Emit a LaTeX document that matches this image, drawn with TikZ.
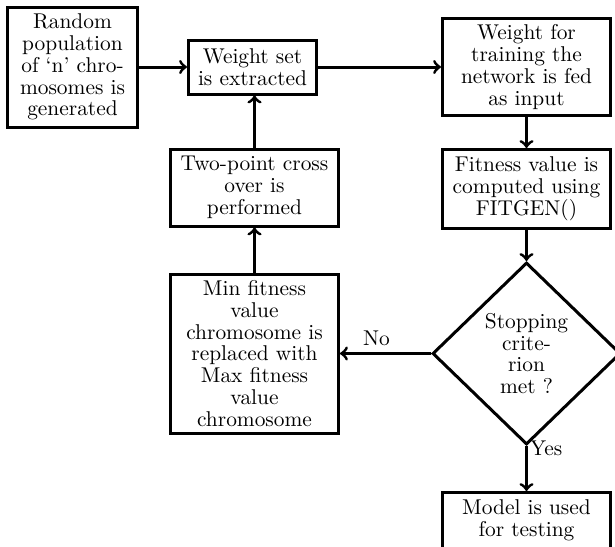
\documentclass[tikz,border=0pt]{standalone}
\usetikzlibrary{shapes.geometric, positioning}
\begin{document}
\begin{tikzpicture}[every node/.style={align=center, font=\fontsize{10.7pt}{10.9pt}\selectfont},
          block/.style={draw, rectangle, line width=1.5pt, inner sep=3pt, minimum width=84pt},
          decision/.style={draw, diamond, line width=1.5pt, inner sep=0pt,
            minimum width=94pt, minimum height=91pt},
          conn/.style={->, line width=1.5pt}]
            \useasboundingbox (0,0) rectangle (307.5pt,-273pt);
            \clip (0,0) rectangle (307.5pt,-273pt);
            % Top row
            \node[block, minimum width=65pt, minimum height=60pt] (rand) at (36.25pt,-33.5pt)
                {Random\\population\\of ‘n’ chro-\\mosomes is\\generated};
            \node[block, minimum width=64pt, minimum height=27pt, right=24pt of rand] (wset)
                {Weight set\\is extracted};
            \node[block, minimum height=48.5pt, right=61.5pt of wset] (wtrain)
                {Weight for\\training the\\network is fed\\as input};
            % Right column
            \node[block, minimum height=39.5pt, below=15.5pt of wtrain] (fitness)
                {Fitness value is\\computed using\\FITGEN()};
            \node[decision, below=15.5pt of fitness] (stop) {Stopping\\crite-\\rion\\met ?};
            \node[block, minimum height=28pt, below=22.5pt of stop] (model) {Model is used\\for testing};
            % Left column
            \node[block, minimum height=79.5pt, left=45.5pt of stop] (minfit)
                {Min fitness\\value\\chromosome is\\replaced with\\Max fitness\\value\\chromosome};
            \node[block, minimum height=38.5pt, above=22.5pt of minfit] (cross)
                {Two-point cross\\over is\\performed};
            % Connectors
            \draw[conn] (rand) -- (wset);
            \draw[conn] (wset) -- (wtrain);
            \draw[conn] (wtrain) -- (fitness);
            \draw[conn] (fitness) -- (stop);
            \draw[conn] (stop) -- node[above, pos=0.6] {No} (minfit);
            \draw[conn] (minfit) -- (cross);
            \draw[conn] (cross) -- (cross |- wset.south);
            \draw[conn] (stop) -- node[anchor=west, pos=0.06, inner sep=1pt] {Yes} (model);
\end{tikzpicture}
\end{document}
